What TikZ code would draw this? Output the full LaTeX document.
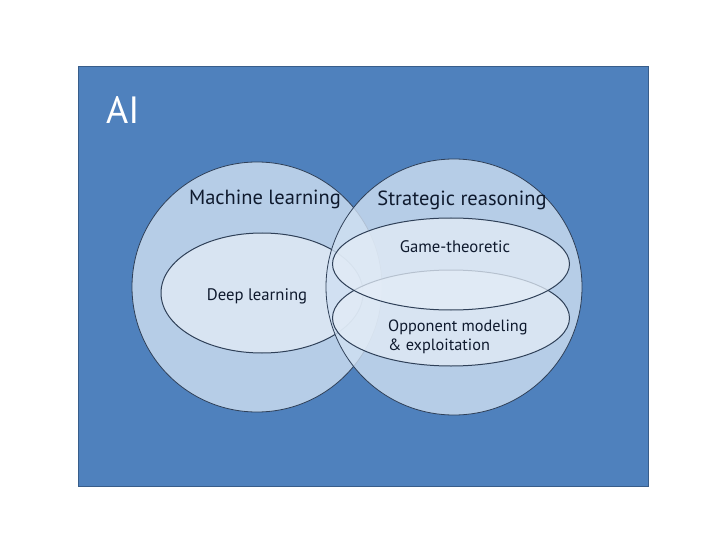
\documentclass[tikz,border=0pt]{standalone}
\usepackage{fontspec}
\setmainfont{PT Sans}
\usetikzlibrary{shapes.geometric}
\definecolor{aiblue}{HTML}{4F81BD}
\definecolor{aiborder}{HTML}{385D8A}
\definecolor{circfill}{HTML}{D0E0F2}
\definecolor{ellfill}{HTML}{E4EDF7}
\definecolor{txt}{HTML}{0F1A2E}
\definecolor{edge}{HTML}{2F4058}
\tikzset{
  x=1pt, y=-1pt,
  bigcirc/.style={circle, draw=edge, line width=0.8pt, fill=circfill, fill opacity=0.8, draw opacity=1, minimum size=#1, inner sep=0pt},
  subell/.style={ellipse, draw=edge, line width=1pt, fill=ellfill, fill opacity=0.75, inner sep=0pt},
  lbl/.style={text=txt, font=\fontsize{#1}{#1}\selectfont, inner sep=0pt, text opacity=1},
}
\begin{document}
\begin{tikzpicture}
\useasboundingbox (0,0) rectangle (720,540);
\fill[white] (0,0) rectangle (720,540);
\node[draw=aiborder, line width=0.8pt, fill=aiblue, minimum width=570pt, minimum height=420pt, inner sep=0pt, anchor=north west] (ai) at (78,66) {};
\node[text=white, font=\fontsize{38}{38}\selectfont, inner sep=0pt, anchor=west] (ailbl) at (106,110) {AI};
\node[bigcirc=250pt] (ml) at (257,287) {};
\node[subell, minimum width=202pt, minimum height=120pt] (dl) at (262,293) {};
\node[bigcirc=256pt] (sr) at (454,287) {};
\node[subell, minimum width=237pt, minimum height=96pt] (om) at (451,318) {};
\node[subell, minimum width=237pt, minimum height=92pt] (gt) at (451,264) {};
\node[lbl=20.5] (mllbl) at (265,199) {Machine learning};
\node[lbl=20.5] (srlbl) at (462,200) {Strategic reasoning};
\node[lbl=16.7] (dllbl) at (257,296) {Deep learning};
\node[lbl=16.7] (gtlbl) at (455,247) {Game-theoretic};
\node[lbl=16.3, align=left, anchor=west, font=\fontsize{16.3}{19.5}\selectfont] (omlbl) at (388,337) {Opponent modeling\\\& exploitation};
\end{tikzpicture}
\end{document}
